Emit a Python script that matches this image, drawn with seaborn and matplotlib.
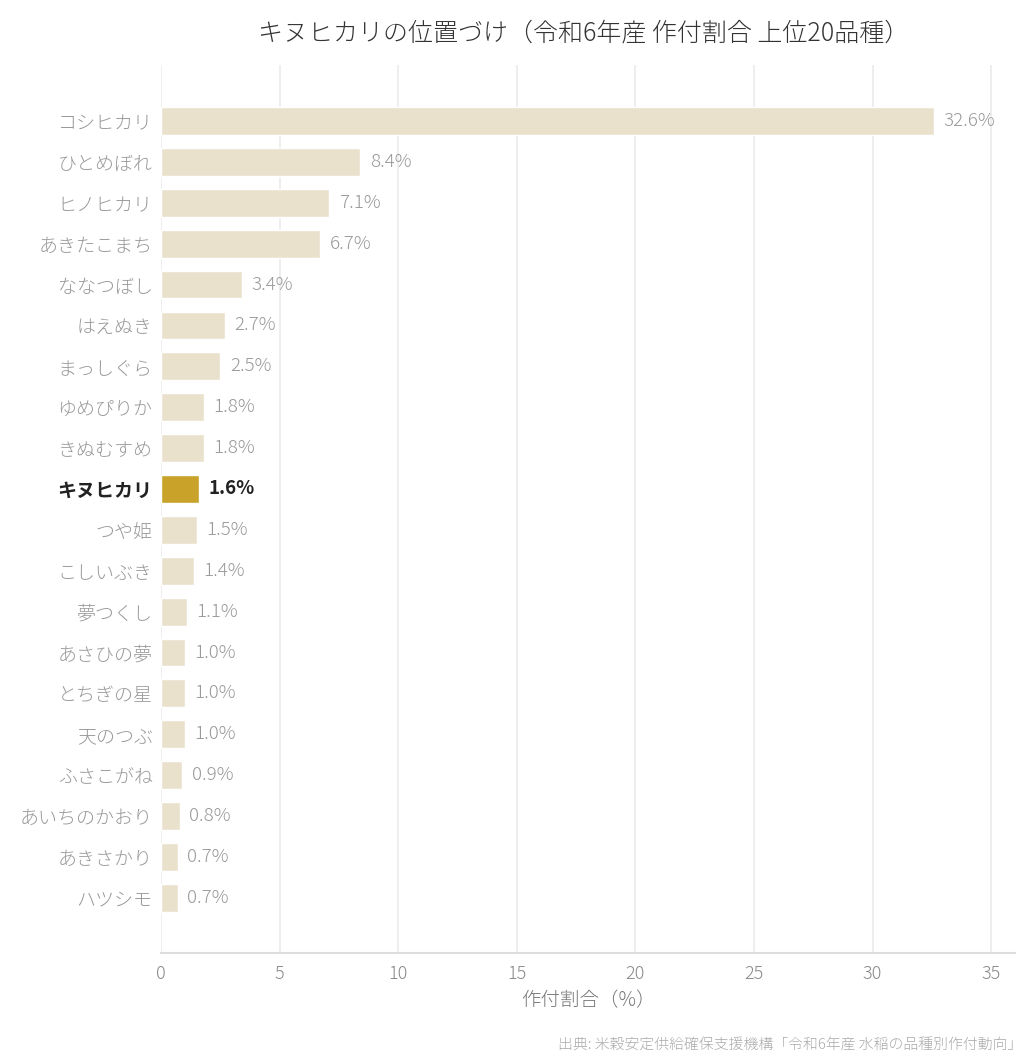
import matplotlib
matplotlib.use("Agg")
import matplotlib.pyplot as plt
import seaborn as sns
import pandas as pd

varieties = ["コシヒカリ", "ひとめぼれ", "ヒノヒカリ", "あきたこまち", "ななつぼし", "はえぬき",
             "まっしぐら", "ゆめぴりか", "きぬむすめ", "キヌヒカリ", "つや姫", "こしいぶき",
             "夢つくし", "あさひの夢", "とちぎの星", "天のつぶ", "ふさこがね", "あいちのかおり",
             "あきさかり", "ハツシモ"]
shares = [32.6, 8.4, 7.1, 6.7, 3.4, 2.7, 2.5, 1.8, 1.8, 1.6, 1.5, 1.4, 1.1, 1.0, 1.0, 1.0,
          0.9, 0.8, 0.7, 0.7]
highlight = "キヌヒカリ"
x_ticks = [0, 5, 10, 15, 20, 25, 30, 35]

title = "キヌヒカリの位置づけ（令和6年産 作付割合 上位20品種）"
xlabel = "作付割合（%）"
source = "出典: 米穀安定供給確保支援機構「令和6年産 水稲の品種別作付動向」"

sns.set_theme(style="white")
plt.rcParams['font.family'] = ['Noto Sans CJK JP', 'DejaVu Sans']

BASE = "#EAE1CD"
HL = "#C9A22A"
GRAY = "#999999"
LW = "light"

df = pd.DataFrame({"variety": varieties, "share": shares})
palette = {v: (HL if v == highlight else BASE) for v in varieties}

fig = plt.figure(figsize=(10.36, 10.64), dpi=100)
ax = fig.add_axes([161/1036, 1 - 953/1064, (1015-161)/1036, (953-65)/1064])

sns.barplot(data=df, x="share", y="variety", hue="variety", palette=palette,
            order=varieties, width=0.68, legend=False, ax=ax, saturation=1)

ax.set_xlim(0, 36)
ax.set_ylim(len(varieties) - 1 + 1.35, -1.37)
ax.set_xticks(x_ticks)
ax.xaxis.grid(True, color="#EBEBEB", linewidth=1.2)
ax.set_axisbelow(True)
for s in ["top", "right", "left"]:
    ax.spines[s].set_visible(False)
ax.spines["bottom"].set_color("#DDDDDD")
ax.spines["bottom"].set_linewidth(1.5)
ax.tick_params(axis="x", colors="#BBBBBB", labelcolor="#888888", labelsize=13, length=5, width=1)
ax.tick_params(axis="y", length=0, labelsize=13.7, pad=6)
for lab in ax.get_xticklabels():
    lab.set_fontweight(LW)

ax.set_ylabel("")
ax.set_xlabel(xlabel, fontsize=14, color="#777777", labelpad=5, fontweight=LW)

for lab in ax.get_yticklabels():
    if lab.get_text() == highlight:
        lab.set_fontweight("bold")
        lab.set_color("#222222")
    else:
        lab.set_color(GRAY)
        lab.set_fontweight(LW)

for i, (v, s) in enumerate(zip(varieties, shares)):
    if v == highlight:
        ax.text(s + 0.4, i, f"{s:.1f}%", va="center", ha="left", fontsize=13.5,
                fontweight="bold", color="#222222")
    else:
        ax.text(s + 0.4, i, f"{s:.1f}%", va="center", ha="left", fontsize=13.5,
                color=GRAY, fontweight=LW)

fig.text(584/1036, 1 - 33/1064, title, ha="center", va="center", fontsize=18,
         color="#333333", fontweight=LW)
fig.text(1022/1036, 1 - 1046/1064, source, ha="right", va="center", fontsize=10.7,
         color="#AAAAAA", fontweight=LW)

fig.savefig("out.png", dpi=100)
